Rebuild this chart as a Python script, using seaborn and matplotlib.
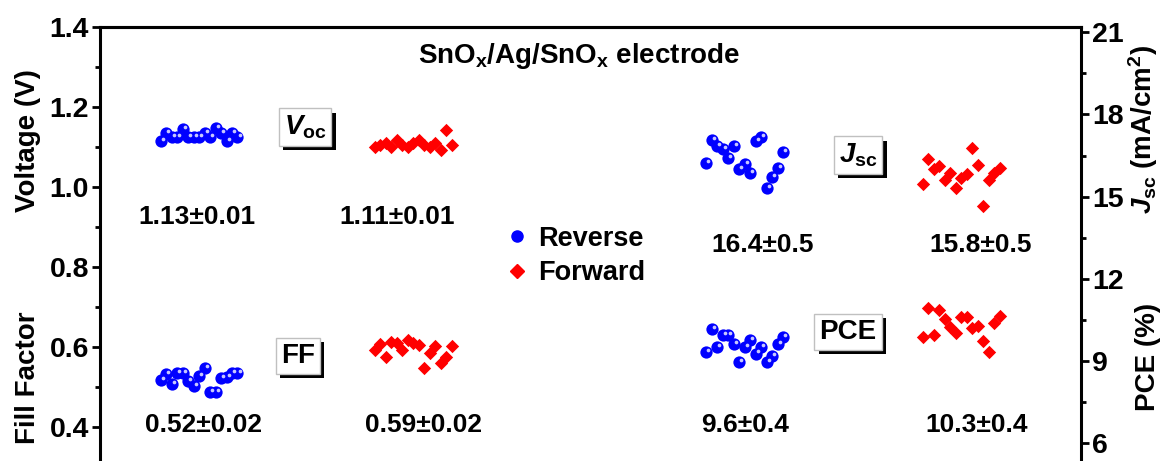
import matplotlib
matplotlib.use("Agg")
import matplotlib.pyplot as plt
import numpy as np
import pandas as pd
import seaborn as sns
from matplotlib import patheffects
from matplotlib.lines import Line2D
from matplotlib.ticker import MultipleLocator
from matplotlib.transforms import offset_copy

# ---- measured device parameters (15 cells, reverse and forward scans) ----
voc_rev = [1.115, 1.135, 1.125, 1.125, 1.145, 1.125, 1.125, 1.125, 1.135, 1.125, 1.148, 1.135, 1.115, 1.135, 1.125]
voc_fwd = [1.100, 1.105, 1.110, 1.100, 1.118, 1.105, 1.100, 1.110, 1.118, 1.105, 1.100, 1.110, 1.093, 1.143, 1.105]
ff_rev = [0.518, 0.533, 0.508, 0.535, 0.535, 0.515, 0.503, 0.528, 0.548, 0.488, 0.488, 0.523, 0.525, 0.535, 0.535]
ff_fwd = [0.593, 0.608, 0.575, 0.613, 0.610, 0.593, 0.618, 0.610, 0.605, 0.548, 0.585, 0.603, 0.560, 0.575, 0.603]
jsc_rev = [16.22, 17.06, 16.83, 16.73, 16.41, 16.83, 16.01, 16.18, 15.87, 17.02, 17.17, 15.30, 15.70, 16.04, 16.62]
jsc_fwd = [15.45, 16.38, 16.00, 16.10, 15.59, 15.86, 15.31, 15.69, 15.83, 16.76, 16.17, 14.67, 15.59, 15.86, 16.03]
pce_rev = [9.33, 10.15, 9.52, 9.94, 9.94, 9.61, 8.97, 9.52, 9.77, 9.27, 9.52, 8.97, 9.18, 9.61, 9.86]
pce_fwd = [9.87, 10.94, 9.95, 10.86, 10.52, 10.25, 10.03, 10.59, 10.59, 10.22, 10.29, 9.72, 9.34, 10.40, 10.63]

scan_names = ["Reverse", "Forward"]
stat_labels = {
    ("Voc", "Reverse"): "1.13\u00b10.01", ("Voc", "Forward"): "1.11\u00b10.01",
    ("FF", "Reverse"): "0.52\u00b10.02", ("FF", "Forward"): "0.59\u00b10.02",
    ("Jsc", "Reverse"): "16.4\u00b10.5", ("Jsc", "Forward"): "15.8\u00b10.5",
    ("PCE", "Reverse"): "9.6\u00b10.4", ("PCE", "Forward"): "10.3\u00b10.4",
}
left_ticks = [0.4, 0.6, 0.8, 1.0, 1.2, 1.4]
right_ticks = [6, 9, 12, 15, 18, 21]

series = {
    ("Voc", "Reverse"): voc_rev, ("Voc", "Forward"): voc_fwd,
    ("FF", "Reverse"): ff_rev, ("FF", "Forward"): ff_fwd,
    ("Jsc", "Reverse"): jsc_rev, ("Jsc", "Forward"): jsc_fwd,
    ("PCE", "Reverse"): pce_rev, ("PCE", "Forward"): pce_fwd,
}

# ---- layout ----
W, H = 1167, 461
# horizontal slot where each cluster of cells begins
slot_start = {
    ("Voc", "Reverse"): 11.0, ("Voc", "Forward"): 50.0,
    ("FF", "Reverse"): 11.0, ("FF", "Forward"): 50.0,
    ("Jsc", "Reverse"): 110.2, ("Jsc", "Forward"): 149.6,
    ("PCE", "Reverse"): 110.2, ("PCE", "Forward"): 149.6,
}

rows = []
for (metric, scan), vals in series.items():
    for i, v in enumerate(vals):
        rows.append({"metric": metric, "scan": scan, "slot": slot_start[(metric, scan)] + i, "value": v})
df = pd.DataFrame(rows)

sns.set_theme(style="ticks")
plt.rcParams["font.family"] = ["Liberation Sans", "DejaVu Sans"]
plt.rcParams["font.weight"] = "bold"
plt.rcParams["mathtext.fontset"] = "custom"
plt.rcParams["mathtext.rm"] = "Liberation Sans:bold"
plt.rcParams["mathtext.bf"] = "Liberation Sans:bold"
plt.rcParams["mathtext.it"] = "Liberation Sans:italic:bold"
plt.rcParams["axes.linewidth"] = 2.2
for k in ("text.color", "axes.labelcolor", "axes.edgecolor", "xtick.color", "ytick.color"):
    plt.rcParams[k] = "black"

fig = plt.figure(figsize=(W / 100, H / 100), dpi=100)
ax = fig.add_axes([100 / W, 0, 981 / W, 1 - 27 / H])
ax2 = ax.twinx()

colors = {"Reverse": "#0000ff", "Forward": "#ff0000"}
marker = {"Reverse": "o", "Forward": "D"}
msize = {"Reverse": 78, "Forward": 46}

for target, metrics in ((ax, ["Voc", "FF"]), (ax2, ["Jsc", "PCE"])):
    for m in metrics:
        for scan in scan_names:
            sub = df[(df.metric == m) & (df.scan == scan)]
            sns.scatterplot(data=sub, x="slot", y="value", ax=target, color=colors[scan],
                            marker=marker[scan], s=msize[scan], linewidth=0, legend=False, zorder=3)
            if scan == "Reverse":
                # small specular highlight for the spherical look
                glint = offset_copy(target.transData, fig=fig, x=1.6, y=1.6, units="points")
                target.scatter(sub["slot"], sub["value"], s=7, color="#c8c8ff", lw=0,
                               transform=glint, zorder=4)

ax.set_xlim(0, 981 / 5.5)
ax.set_ylim(1.4 - (H - 27) / 400, 1.4)
ax2.set_ylim(21.19 - (H - 27) / 27.4, 21.19)

for a in (ax, ax2):
    a.spines["bottom"].set_visible(False)
    a.tick_params(axis="x", bottom=False, labelbottom=False)
    a.set_xlabel("")
    a.set_ylabel("")
    a.tick_params(axis="y", which="major", length=6, width=2, labelsize=20.5, pad=2, direction="out")
    a.tick_params(axis="y", which="minor", length=3.5, width=2, direction="out")
ax2.spines["left"].set_visible(False)
ax.spines["right"].set_visible(False)

ax.set_yticks(left_ticks)
ax.yaxis.set_minor_locator(MultipleLocator(0.1))
ax.set_yticklabels([f"{t:.1f}" for t in left_ticks], fontweight="bold")
ax2.set_yticks(right_ticks)
ax2.yaxis.set_minor_locator(MultipleLocator(1.5))
ax2.set_yticklabels([str(t) for t in right_ticks], fontweight="bold")

# axis titles
fig.text(28 / W, 1 - 141 / H, "Voltage (V)", rotation=90, ha="center", va="center", fontsize=20, fontweight="bold")
fig.text(28 / W, 1 - 378 / H, "Fill Factor", rotation=90, ha="center", va="center", fontsize=20, fontweight="bold")
fig.text(1143 / W, 1 - 130 / H, r"$J_\mathbf{sc}$ (mA/cm$^\mathbf{2}$)", rotation=90, ha="center", va="center",
         fontsize=20, fontweight="bold")
fig.text(1148 / W, 1 - 357 / H, "PCE (%)", rotation=90, ha="center", va="center", fontsize=20, fontweight="bold")

fig.text(579 / W, 1 - 56 / H, r"SnO$_\mathbf{x}$/Ag/SnO$_\mathbf{x}$ electrode", ha="center", va="center",
         fontsize=20, fontweight="bold")

# mean ± std annotations
stat_pos = {
    ("Voc", "Reverse"): (197, 217), ("Voc", "Forward"): (397, 217),
    ("FF", "Reverse"): (203, 425), ("FF", "Forward"): (424, 425),
    ("Jsc", "Reverse"): (763, 245), ("Jsc", "Forward"): (981, 245),
    ("PCE", "Reverse"): (745, 425), ("PCE", "Forward"): (977, 425),
}
for key, text in stat_labels.items():
    px, py = stat_pos[key]
    fig.text(px / W, 1 - py / H, text, ha="center", va="center", fontsize=19, fontweight="bold")

# parameter tags with drop shadow
tags = [(r"$V_\mathbf{oc}$", 305, 127), ("FF", 298, 356), (r"$J_\mathbf{sc}$", 858, 155), ("PCE", 848, 332)]
for txt, px, py in tags:
    t = fig.text(px / W, 1 - py / H, txt, ha="center", va="center", fontsize=20, fontweight="bold",
                 bbox=dict(boxstyle="square,pad=0.18", fc="white", ec="#c0c0c0", lw=1))
    t.get_bbox_patch().set_path_effects([
        patheffects.SimplePatchShadow(offset=(3.2, -3.2), shadow_rgbFace="black", alpha=1.0),
        patheffects.Normal(),
    ])

handles = [
    Line2D([], [], ls="none", marker="o", color=colors["Reverse"], markersize=8),
    Line2D([], [], ls="none", marker="D", color=colors["Forward"], markersize=7),
]
ax2.legend(handles, scan_names, frameon=False, loc="center left",
           bbox_to_anchor=(506 / W, 1 - 256 / H), bbox_transform=fig.transFigure,
           handlelength=0.8, handletextpad=0.4, labelspacing=0.3, borderpad=0, borderaxespad=0,
           prop={"weight": "bold", "size": 19.5})

fig.savefig("out.png", dpi=100)
